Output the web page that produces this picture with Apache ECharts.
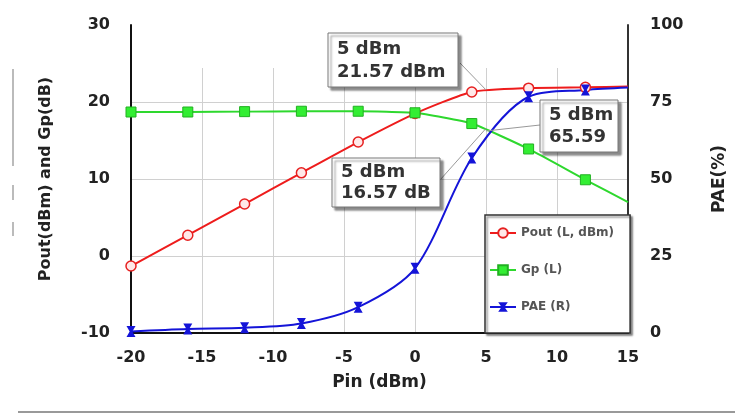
<!DOCTYPE html>
<html><head><meta charset="utf-8">
<script src="https://cdn.jsdelivr.net/npm/echarts@6/dist/echarts.min.js"></script>
<style>html,body{margin:0;padding:0;background:#fff}#c{width:735px;height:415px}</style>
</head><body><div id="c"></div>
<script>
// ---- data ----
const pin    = [-20, -16, -12, -8, -4, 0, 4, 8, 12, 15];
const pout   = [-1.3, 2.7, 6.75, 10.8, 14.8, 18.5, 21.3, 21.8, 21.9, 22.0];
const gp     = [18.7, 18.7, 18.75, 18.8, 18.8, 18.6, 17.2, 13.9, 9.9, 7.0];
const pae    = [0.5, 1.3, 1.7, 3.1, 8.4, 21.0, 56.8, 76.7, 78.9, 79.7];
const hasMarker = [true, true, true, true, true, true, true, true, true, false];
const seriesNames = ['Pout (L, dBm)', 'Gp (L)', 'PAE (R)'];
const xRange = [-20, 15, 5];
const leftRange = [-10, 30, 10];
const rightRange = [0, 100, 25];
const annotPin = 5;
const annotPout = 21.57;
const annotGp = 16.57;
const annotPae = 65.59;
const annotTexts = [['5 dBm', '21.57 dBm'], ['5 dBm', '16.57 dB'], ['5 dBm', '65.59']];

const FONT = 'DejaVu Sans';
const chart = echarts.init(document.getElementById('c'), null, {renderer: 'canvas'});

function mk(ys) {
  return pin.map((x, i) => hasMarker[i] ? {value: [x, ys[i]]} : {value: [x, ys[i]], symbol: 'none'});
}
const axisLbl = {fontFamily: FONT, fontWeight: 'bold', fontSize: 16, color: '#222'};
const nameStyle = {fontFamily: FONT, fontWeight: 'bold', fontSize: 16, color: '#222'};

chart.setOption({
  animation: false,
  backgroundColor: '#fff',
  grid: {left: 131, right: 107, top: 25, bottom: 82, containLabel: false, outerBoundsMode: 'none'},
  xAxis: {
    type: 'value', min: xRange[0], max: xRange[1], interval: xRange[2],
    name: 'Pin (dBm)', nameLocation: 'middle', nameGap: 41,
    nameTextStyle: Object.assign({}, nameStyle, {fontSize: 17}),
    axisLine: {show: true, onZero: false, lineStyle: {color: '#111', width: 2}},
    axisTick: {show: false},
    axisLabel: Object.assign({margin: 17}, axisLbl),
    splitLine: {show: true, lineStyle: {color: '#d0d0d0', width: 1}}
  },
  yAxis: [{
    type: 'value', position: 'left', min: leftRange[0], max: leftRange[1], interval: leftRange[2],
    name: 'Pout(dBm) and Gp(dB)', nameLocation: 'middle', nameRotate: 90, nameGap: 77,
    nameTextStyle: nameStyle,
    axisLine: {show: true, onZero: false, lineStyle: {color: '#111', width: 2}},
    axisTick: {show: false},
    axisLabel: Object.assign({margin: 21}, axisLbl),
    splitLine: {show: true, lineStyle: {color: '#d0d0d0', width: 1}}
  }, {
    type: 'value', position: 'right', min: rightRange[0], max: rightRange[1], interval: rightRange[2],
    name: 'PAE(%)', nameLocation: 'middle', nameRotate: 90, nameGap: 83,
    nameTextStyle: Object.assign({}, nameStyle, {fontSize: 17}),
    axisLine: {show: true, onZero: false, lineStyle: {color: '#333', width: 2}},
    axisTick: {show: false},
    axisLabel: Object.assign({margin: 22}, axisLbl),
    splitLine: {show: false}
  }],
  legend: {
    orient: 'vertical', left: 485, top: 215,
    padding: [12, 16, 20, 4], itemGap: 25, itemWidth: 26, itemHeight: 12,
    backgroundColor: '#fff', borderColor: '#333', borderWidth: 1.5,
    shadowColor: 'rgba(0,0,0,0.45)', shadowOffsetX: 2, shadowOffsetY: 2, shadowBlur: 2,
    textStyle: {fontFamily: FONT, fontWeight: 'bold', fontSize: 12, color: '#555'},
    data: seriesNames
  },
  series: [{
    name: seriesNames[0], type: 'line', yAxisIndex: 0, smooth: 0.2, data: mk(pout),
    symbol: 'circle', symbolSize: 10,
    lineStyle: {color: '#ee1c1c', width: 2},
    itemStyle: {color: '#ffe8e8', borderColor: '#e62020', borderWidth: 1.5}
  }, {
    name: seriesNames[1], type: 'line', yAxisIndex: 0, smooth: 0.15, data: mk(gp),
    symbol: 'rect', symbolSize: 10,
    lineStyle: {color: '#2ed82e', width: 2},
    itemStyle: {color: '#33ee33', borderColor: '#22b022', borderWidth: 1}
  }, {
    name: seriesNames[2], type: 'line', yAxisIndex: 1, smooth: 0.3, data: mk(pae),
    symbol: 'path://M0,0L10,0L6.5,5L10,10L0,10L3.5,5Z', symbolSize: [9, 11],
    lineStyle: {color: '#1414d8', width: 2},
    itemStyle: {color: '#1414d8'}
  }]
});

// ---- callouts (boxes are layout; anchor points come from data through the axes) ----
const pPout = chart.convertToPixel({xAxisIndex: 0, yAxisIndex: 0}, [annotPin, annotPout]);
const pGp   = chart.convertToPixel({xAxisIndex: 0, yAxisIndex: 0}, [annotPin, annotGp]);
const pPae  = chart.convertToPixel({xAxisIndex: 0, yAxisIndex: 1}, [annotPin, annotPae]);

const boxes = [
  {x: 328, y: 33, w: 130, h: 54, from: [460, 63], to: pPout, t: annotTexts[0]},
  {x: 332, y: 158, w: 108, h: 49, from: [440, 180], to: pGp, t: annotTexts[1]},
  {x: 540, y: 100, w: 78, h: 52, from: [540, 125], to: pPae, t: annotTexts[2]}
];
const g = [];
// washed-out band at the top of the plot area (no gridlines there in the original)
g.push({type: 'rect', z: 1, shape: {x: 132, y: 24, width: 495, height: 44}, style: {fill: '#fff'}});
boxes.forEach(b => {
  g.push({type: 'line', z: 100, shape: {x1: b.from[0], y1: b.from[1], x2: b.to[0], y2: b.to[1]},
          style: {stroke: '#999', lineWidth: 1}});
  g.push({type: 'rect', z: 101, shape: {x: b.x, y: b.y, width: b.w, height: b.h},
          style: {fill: '#fff', stroke: '#777', lineWidth: 1,
                  shadowColor: 'rgba(0,0,0,0.45)', shadowOffsetX: 3, shadowOffsetY: 3, shadowBlur: 2}});
  g.push({type: 'text', z: 102, x: b.x + 9, y: b.y + b.h * 0.3,
          style: {text: b.t[0], fill: '#333', font: 'bold 18px "DejaVu Sans"', verticalAlign: 'middle'}});
  g.push({type: 'text', z: 102, x: b.x + 9, y: b.y + b.h * 0.72,
          style: {text: b.t[1], fill: '#333', font: 'bold 18px "DejaVu Sans"', verticalAlign: 'middle'}});
});
// decorative page rules
g.push({type: 'line', z: 1, shape: {x1: 18, y1: 412, x2: 735, y2: 412}, style: {stroke: '#999', lineWidth: 2}});
g.push({type: 'line', z: 1, shape: {x1: 13, y1: 69, x2: 13, y2: 166}, style: {stroke: '#bbb', lineWidth: 2}});
g.push({type: 'line', z: 1, shape: {x1: 13, y1: 185, x2: 13, y2: 200}, style: {stroke: '#bbb', lineWidth: 2}});
g.push({type: 'line', z: 1, shape: {x1: 13, y1: 222, x2: 13, y2: 236}, style: {stroke: '#bbb', lineWidth: 2}});
chart.setOption({graphic: g});
</script></body></html>
